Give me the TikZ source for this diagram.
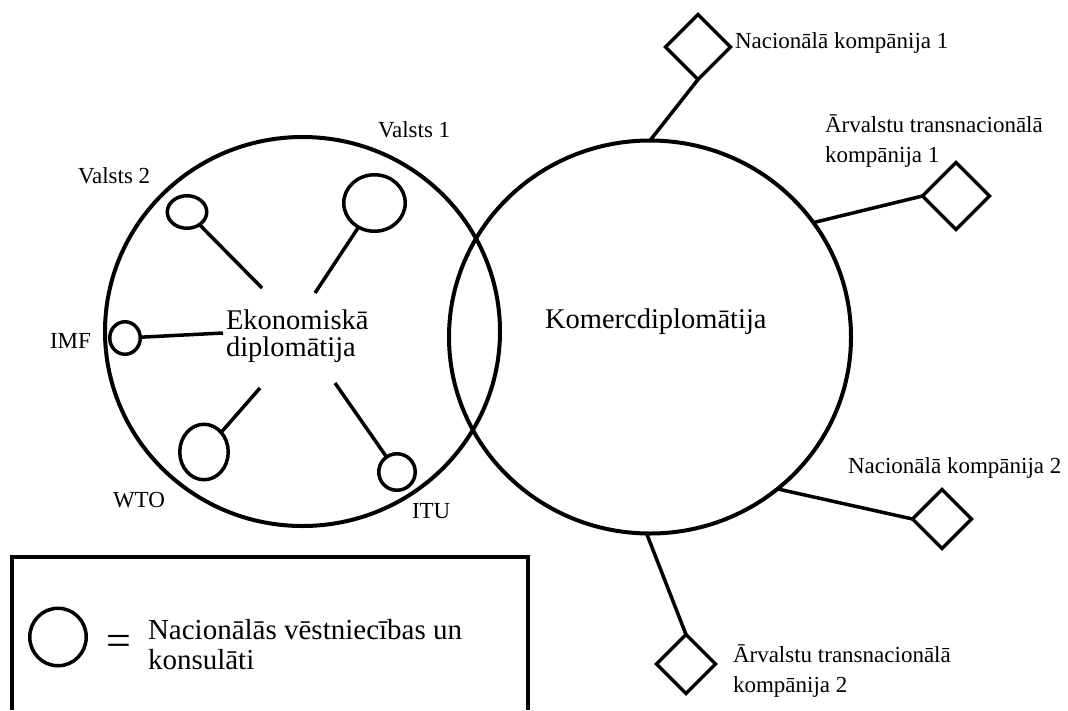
\documentclass[tikz,border=0pt]{standalone}
\usepackage{fontspec}
\setmainfont{Liberation Serif}
\usetikzlibrary{shapes.geometric}

\newcommand{\lblfont}{\fontsize{23}{30}\selectfont}
\newcommand{\bigfont}{\fontsize{28.5}{27}\selectfont}
\newcommand{\legfont}{\fontsize{29}{29.5}\selectfont}

\begin{document}
\begin{tikzpicture}[
  x=1pt, y=-1pt,
  line width=3.5pt,
  every node/.style={inner sep=0pt, outer sep=0pt},
  area/.style={draw, ellipse, line width=4pt},
  emb/.style={draw, ellipse},
  firm/.style={draw, diamond, aspect=1},
  lbl/.style={anchor=base west, font=\lblfont, align=left}
]
  \useasboundingbox (0,0) rectangle (1068,710);

  \node[area, minimum width=395pt, minimum height=389pt] (eko) at (302.5,331.5) {};
  \node[area, minimum width=402pt, minimum height=393pt] (kom) at (650,337) {};

  \node[lbl, font=\bigfont] (ekot) at (226,356) {Ekonomiskā\\diplomātija};
  \node[lbl, font=\bigfont] (komt) at (545,328) {Komercdiplomātija};

  \node[emb, minimum width=61.5pt, minimum height=56.5pt] (v1) at (374.5,203) {};
  \node[emb, minimum width=39.5pt, minimum height=32.5pt] (v2) at (187,212) {};
  \node[emb, minimum width=30.5pt, minimum height=32.5pt] (imf) at (125,338) {};
  \node[emb, minimum width=48.5pt, minimum height=55.5pt] (wto) at (204,452) {};
  \node[emb, minimum width=36.5pt, minimum height=36.5pt] (itu) at (397,472) {};

  \coordinate (v1e) at (315,293);
  \coordinate (v2e) at (262,288);
  \coordinate (imfe) at (223,333);
  \coordinate (wtoe) at (260,388);
  \coordinate (itue) at (335,383);

  \draw (v1) -- (v1e);
  \draw (v2) -- (v2e);
  \draw (imf) -- (imfe);
  \draw (wto) -- (wtoe);
  \draw (itu) -- (itue);

  \node[lbl] (v1l) at (378,137) {Valsts 1};
  \node[lbl] (v2l) at (78,183) {Valsts 2};
  \node[lbl] (imfl) at (50,348) {IMF};
  \node[lbl] (wtol) at (113,507) {WTO};
  \node[lbl] (itul) at (412,518) {ITU};

  \node[firm, minimum size=65pt] (n1) at (698,47) {};
  \node[firm, minimum size=67pt] (a1) at (956,196) {};
  \node[firm, minimum size=59pt] (n2) at (942,519) {};
  \node[firm, minimum size=59pt] (a2) at (686,664) {};

  \node[lbl] (n1l) at (735,48) {Nacionālā kompānija 1};
  \node[lbl] (a1l) at (825,162) {Ārvalstu transnacionālā\\kompānija 1};
  \node[lbl] (n2l) at (848,473) {Nacionālā kompānija 2};
  \node[lbl] (a2l) at (733,692) {Ārvalstu transnacionālā\\kompānija 2};

  \draw (n1.south) -- (kom.90);
  \draw (a1.west) -- (kom.35);
  \draw (n2.west) -- (kom.-50);
  \draw (a2.north) -- (kom.-91);

  \draw[line width=4pt] (12,710) -- (12,557) -- (528,557) -- (528,710);
  \node[emb, minimum width=56.5pt, minimum height=57.5pt] (key) at (58,637) {};
  \node[font=\fontsize{44}{44}\selectfont] (eq) at (119,645) {=};
  \node[lbl, font=\legfont] (keyt) at (148,669) {Nacionālās vēstniecības un\\konsulāti};
\end{tikzpicture}
\end{document}
